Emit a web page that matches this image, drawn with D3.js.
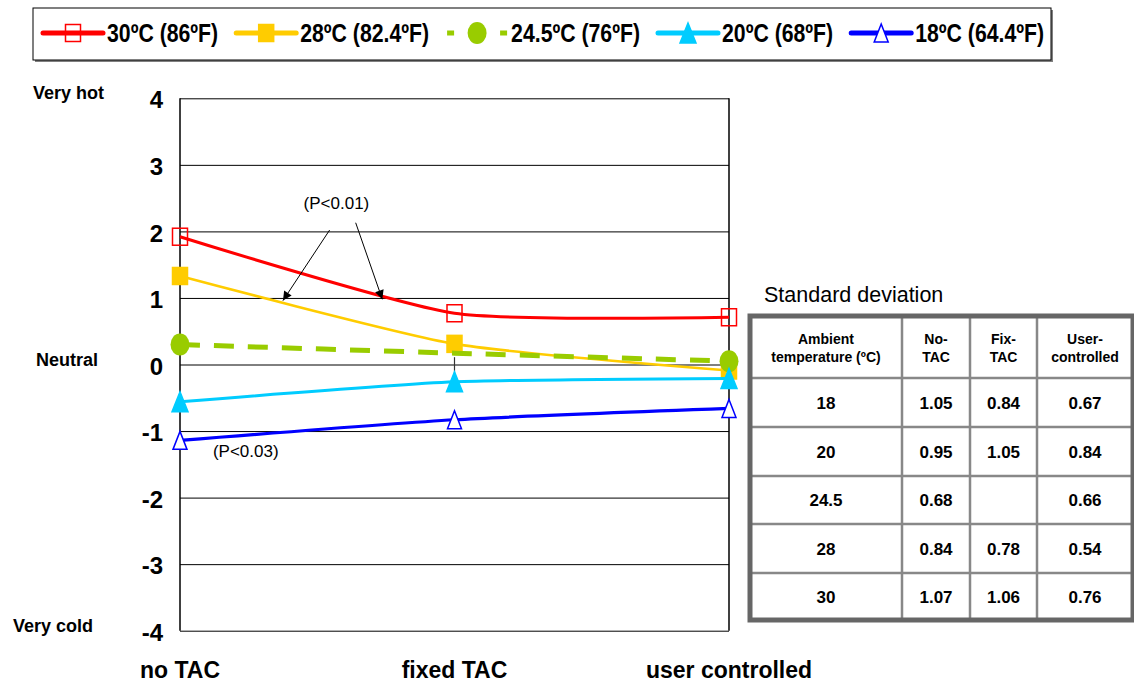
<!DOCTYPE html>
<html>
<head>
<meta charset="utf-8">
<script src="https://cdn.jsdelivr.net/npm/d3@7"></script>
<style>
  body { margin: 0; background: #fff; }
  svg { display: block; font-family: "Liberation Sans", Arial, sans-serif; }
</style>
</head>
<body>
<svg width="1134" height="683"></svg>
<script>
// chart values
const categories = ["no TAC", "fixed TAC", "user controlled"];
const seriesNames = ["30ºC (86ºF)", "28ºC (82.4ºF)", "24.5ºC (76ºF)", "20ºC (68ºF)", "18ºC (64.4ºF)"];
const t30 = [1.92, 0.77, 0.71];
const t28 = [1.33, 0.31, -0.09];
const t245 = [0.3, 0.17, 0.05];
const t20 = [-0.56, -0.26, -0.21];
const t18 = [-1.14, -0.83, -0.66];
const hidden245 = ["fixed TAC"]; // no marker drawn there
const yTicks = [4, 3, 2, 1, 0, -1, -2, -3, -4];
const yWords = ["Very hot", "Neutral", "Very cold"];
const yWordValues = [4, 0, -4];

// standard deviation table
const sdHeader = [["Ambient", "temperature (ºC)"], ["No-", "TAC"], ["Fix-", "TAC"], ["User-", "controlled"]];
const sdTemp = ["18", "20", "24.5", "28", "30"];
const sdNoTAC = ["1.05", "0.95", "0.68", "0.84", "1.07"];
const sdFixTAC = ["0.84", "1.05", "", "0.78", "1.06"];
const sdUser = ["0.67", "0.84", "0.66", "0.54", "0.76"];

const seriesValues = [t30, t28, t245, t20, t18];
const styles = [
  { color: "#ff0000", width: 3, marker: "squareOpen" },
  { color: "#ffcc00", width: 2.6, marker: "square" },
  { color: "#99cc00", width: 5, marker: "circle", dash: "20,14" },
  { color: "#00ccff", width: 3, marker: "triangle" },
  { color: "#0000ff", width: 3.2, marker: "triangleOpen" }
];

const svg = d3.select("svg");

const x = d3.scalePoint().domain(categories).range([180, 729]).padding(0);
const y = d3.scaleLinear().domain([-4, 4]).range([630.7, 98.3]);

// position between two categories, used for the annotations
function between(i, f) {
  return x(categories[i]) + f * (x(categories[i + 1]) - x(categories[i]));
}

// gridlines
svg.append("g")
  .attr("transform", "translate(180,0)")
  .call(d3.axisLeft(y).tickValues(yTicks).tickSize(-549).tickFormat(""))
  .call(g => g.select(".domain").remove())
  .call(g => g.selectAll("line").attr("stroke", "#000").attr("stroke-width", 1));

// axis labels
svg.append("g")
  .attr("transform", "translate(180,0)")
  .call(d3.axisLeft(y).tickValues(yTicks).tickSize(0).tickPadding(17).tickFormat(d => String(d)))
  .call(g => g.select(".domain").remove())
  .call(g => g.selectAll("text")
    .attr("font-size", 24).attr("font-weight", "bold").attr("fill", "#000")
    .attr("font-family", "Liberation Sans, Arial, sans-serif").attr("dy", "0.4em"));

// left and right border
svg.append("line").attr("x1", 180).attr("x2", 180).attr("y1", y(4)).attr("y2", y(-4))
  .attr("stroke", "#000").attr("stroke-width", 1.5);
svg.append("line").attr("x1", 729).attr("x2", 729).attr("y1", y(4)).attr("y2", y(-4))
  .attr("stroke", "#000").attr("stroke-width", 1.5);

const wordX = [33, 36, 13];
svg.selectAll(".yword").data(yWords).join("text")
  .attr("x", (d, i) => wordX[i])
  .attr("y", (d, i) => y(yWordValues[i]) + 1)
  .attr("font-size", 18).attr("font-weight", "bold")
  .text(d => d);

svg.selectAll(".xlab").data(categories).join("text")
  .attr("x", d => x(d)).attr("y", 678)
  .attr("text-anchor", "middle")
  .attr("font-size", 23).attr("font-weight", "bold")
  .text(d => d);

// small vertical tick at fixed TAC
svg.append("line")
  .attr("x1", x("fixed TAC")).attr("x2", x("fixed TAC"))
  .attr("y1", y(0.11)).attr("y2", y(-0.24))
  .attr("stroke", "#333").attr("stroke-width", 1.2);

function drawMarker(g, type, color, cx, cy) {
  if (type === "squareOpen" || type === "square") {
    g.append("rect").attr("x", cx - 7.5).attr("y", cy - 8.5).attr("width", 15).attr("height", 17)
      .attr("fill", type === "square" ? color : "none")
      .attr("stroke", color).attr("stroke-width", 1.5);
  } else if (type === "circle") {
    g.append("ellipse").attr("cx", cx).attr("cy", cy).attr("rx", 9.5).attr("ry", 11).attr("fill", color);
  } else {
    const w = type === "triangle" ? 8 : 7;
    const h = type === "triangle" ? 10 : 9;
    g.append("path")
      .attr("d", `M${cx},${cy - h}L${cx + w},${cy + h}L${cx - w},${cy + h}Z`)
      .attr("fill", type === "triangle" ? color : "#fff")
      .attr("stroke", color).attr("stroke-width", 1.5);
  }
}

const line = d3.line()
  .x((d, i) => x(categories[i]))
  .y(d => y(d))
  .curve(d3.curveCardinal.tension(0.4));

seriesValues.forEach((vals, si) => {
  const st = styles[si];
  const g = svg.append("g");
  g.append("path").datum(vals)
    .attr("d", line)
    .attr("fill", "none")
    .attr("stroke", st.color)
    .attr("stroke-width", st.width)
    .attr("stroke-dasharray", st.dash || null);
  vals.forEach((v, i) => {
    if (si === 2 && hidden245.includes(categories[i])) return;
    drawMarker(g, st.marker, st.color, x(categories[i]), y(v));
  });
});

// annotations
svg.append("defs").append("marker")
  .attr("id", "arrow").attr("viewBox", "0 0 10 10")
  .attr("refX", 10).attr("refY", 5)
  .attr("markerWidth", 12).attr("markerHeight", 9)
  .attr("markerUnits", "userSpaceOnUse")
  .attr("orient", "auto")
  .append("path").attr("d", "M0,0L10,5L0,10Z").attr("fill", "#000");

svg.append("text")
  .attr("x", between(0, 0.57)).attr("y", y(2.33))
  .attr("text-anchor", "middle").attr("font-size", 17)
  .text("(P<0.01)");
svg.append("line")
  .attr("x1", between(0, 0.545)).attr("y1", y(2.02))
  .attr("x2", between(0, 0.375)).attr("y2", y(0.96))
  .attr("stroke", "#000").attr("stroke-width", 1).attr("marker-end", "url(#arrow)");
svg.append("line")
  .attr("x1", between(0, 0.64)).attr("y1", y(2.13))
  .attr("x2", between(0, 0.737)).attr("y2", y(0.98))
  .attr("stroke", "#000").attr("stroke-width", 1).attr("marker-end", "url(#arrow)");
svg.append("text")
  .attr("x", between(0, 0.12)).attr("y", y(-1.39))
  .attr("font-size", 17)
  .text("(P<0.03)");

// legend
const lg = svg.append("g");
lg.append("rect").attr("x", 35).attr("y", 10).attr("width", 1018).attr("height", 52).attr("fill", "#808080");
lg.append("rect").attr("x", 33).attr("y", 8).attr("width", 1018).attr("height", 52)
  .attr("fill", "#fff").attr("stroke", "#000").attr("stroke-width", 1);
let lx = 43;
seriesNames.forEach((name, i) => {
  const st = styles[i];
  const g = lg.append("g");
  g.append("line").attr("x1", lx).attr("x2", lx + 60).attr("y1", 33).attr("y2", 33)
    .attr("stroke", st.color).attr("stroke-width", 5)
    .attr("stroke-linecap", st.dash ? "butt" : "round")
    .attr("stroke-dasharray", st.dash ? "7,46" : null);
  drawMarker(g, st.marker, st.color, lx + 30, 33);
  const t = g.append("text").attr("x", lx + 64).attr("y", 42)
    .attr("font-size", 25).attr("font-weight", "bold").text(name);
  const w = t.node().getComputedTextLength() * 0.85;
  t.attr("textLength", w).attr("lengthAdjust", "spacingAndGlyphs");
  lx = lx + 64 + w + 18;
});

// standard deviation table
svg.append("text").attr("x", 764).attr("y", 302).attr("font-size", 21.5).text("Standard deviation");
const colX = [750, 902, 970, 1037, 1133];
const rowY = [316, 378, 427, 476, 524, 573, 620];
const tg = svg.append("g");
tg.append("rect").attr("x", 750).attr("y", 316).attr("width", 383).attr("height", 304)
  .attr("fill", "#fff");
colX.slice(1, 4).forEach(cx => tg.append("line").attr("x1", cx).attr("x2", cx)
  .attr("y1", 316).attr("y2", 620).attr("stroke", "#888").attr("stroke-width", 2.5));
rowY.slice(1, 6).forEach(ry => tg.append("line").attr("x1", 750).attr("x2", 1133)
  .attr("y1", ry).attr("y2", ry).attr("stroke", "#888").attr("stroke-width", 2.5));
tg.append("rect").attr("x", 750).attr("y", 316).attr("width", 383).attr("height", 304)
  .attr("fill", "none").attr("stroke", "#666").attr("stroke-width", 5);

sdHeader.forEach((lines, c) => {
  const cx = (colX[c] + colX[c + 1]) / 2;
  lines.forEach((s, k) => {
    tg.append("text").attr("x", cx).attr("y", 344 + k * 17.5)
      .attr("text-anchor", "middle").attr("font-size", 14).attr("font-weight", "bold").text(s);
  });
});
const sdCols = [sdTemp, sdNoTAC, sdFixTAC, sdUser];
sdCols.forEach((col, c) => {
  const cx = (colX[c] + colX[c + 1]) / 2;
  col.forEach((s, r) => {
    tg.append("text").attr("x", cx).attr("y", (rowY[r + 1] + rowY[r + 2]) / 2 + 6)
      .attr("text-anchor", "middle").attr("font-size", 17).attr("font-weight", "bold").text(s);
  });
});
</script>
</body>
</html>
